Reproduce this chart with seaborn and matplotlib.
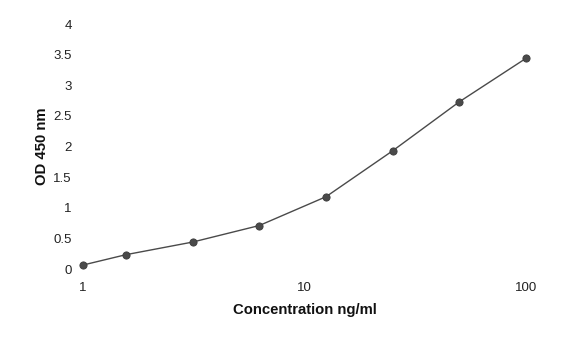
import matplotlib
matplotlib.use("Agg")
import matplotlib.pyplot as plt
import seaborn as sns
import pandas as pd
from matplotlib.ticker import FixedLocator, FixedFormatter, NullLocator

concentration = [1, 1.5625, 3.125, 6.25, 12.5, 25, 50, 100]
od450 = [0.065, 0.234, 0.44, 0.71, 1.18, 1.93, 2.73, 3.44]
x_ticks = [1, 10, 100]
x_tick_labels = ["1", "10", "100"]
y_ticks = [0, 0.5, 1, 1.5, 2, 2.5, 3, 3.5, 4]
y_tick_labels = ["0", "0.5", "1", "1.5", "2", "2.5", "3", "3.5", "4"]

sns.set_style("white")
plt.rcParams["font.family"] = ["Liberation Sans", "DejaVu Sans"]

df = pd.DataFrame({"conc": concentration, "od": od450})

fig = plt.figure(figsize=(5.72, 3.46), dpi=100)
ax = fig.add_axes([0.1451, 0.2225, 0.9196 - 0.1451, 0.9306 - 0.2225])

sns.lineplot(data=df, x="conc", y="od", ax=ax, color="#4a4a4a", linewidth=1.0,
             marker="o", markersize=5.2, markerfacecolor="#4a4a4a",
             markeredgecolor="#3a3a3a", markeredgewidth=0.6, clip_on=False)

ax.set_xscale("log")
ax.set_xlim(1, 100)
ax.set_ylim(0, 4)
ax.xaxis.set_major_locator(FixedLocator(x_ticks))
ax.xaxis.set_major_formatter(FixedFormatter(x_tick_labels))
ax.xaxis.set_minor_locator(NullLocator())
ax.set_yticks(y_ticks)
ax.set_yticklabels(y_tick_labels)
ax.tick_params(axis="x", length=0, pad=9, labelsize=9.5, labelcolor="#222222")
ax.tick_params(axis="y", length=0, pad=8, labelsize=9.5, labelcolor="#222222")
for s in ax.spines.values():
    s.set_visible(False)

ax.set_xlabel("Concentration ng/ml", fontsize=10.7, fontweight="bold", labelpad=7, color="#111111")
ax.set_ylabel("OD 450 nm", fontsize=10.7, fontweight="bold", labelpad=3, color="#111111")
ax.grid(False)

fig.savefig("out.png", dpi=100, facecolor="white")
